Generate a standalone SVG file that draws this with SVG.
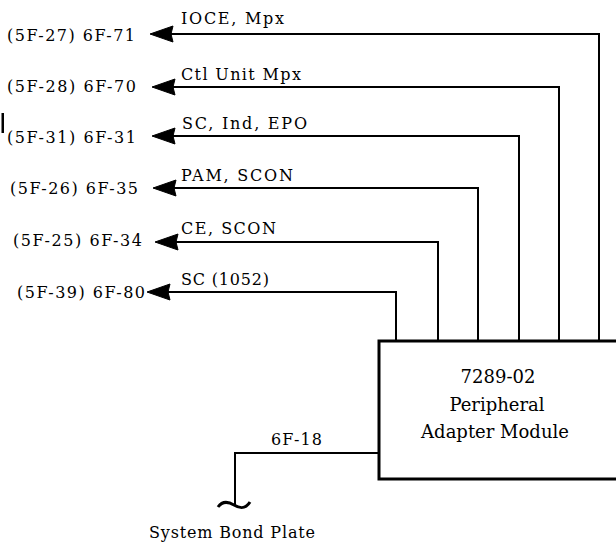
<svg xmlns="http://www.w3.org/2000/svg" width="616" height="546" viewBox="0 0 616 546">
<style>
.lbl{font-family:"DejaVu Serif","Liberation Serif",serif;font-size:16px;fill:#000}
.box{font-family:"DejaVu Serif","Liberation Serif",serif;font-size:18px;fill:#000;text-anchor:middle}
.wire{fill:none;stroke:#000;stroke-width:2}
.ah{fill:#000;stroke:#000;stroke-width:1;stroke-linejoin:miter}
</style>
<defs>
<path id="arr" d="M0,0 L23,-8 L21,0 L23,8 Z"/>
</defs>
<rect width="616" height="546" fill="#fff"/>
<g id="connectors">
<path class="wire" d="M599,340 V34 H168"/>
<path class="wire" d="M559,340 V87 H170"/>
<path class="wire" d="M519,340 V136 H170"/>
<path class="wire" d="M478,340 V188 H171"/>
<path class="wire" d="M438,340 V242 H173"/>
<path class="wire" d="M396,340 V292 H165"/>
<use href="#arr" class="ah" x="150" y="34"/>
<use href="#arr" class="ah" x="152" y="87"/>
<use href="#arr" class="ah" x="152" y="136"/>
<use href="#arr" class="ah" x="153" y="188"/>
<use href="#arr" class="ah" x="155" y="242"/>
<use href="#arr" class="ah" x="147" y="292"/>
<path class="wire" d="M379,453 H235 V505"/>
<path d="M218,507 C223,500 229,502 234,505 C239,508 245,510 250,502" fill="none" stroke="#000" stroke-width="3"/>
</g>
<g id="module">
<path d="M620,341 H379 V479 H620" fill="#fff" stroke="#000" stroke-width="3"/>
<text class="box" x="498" y="383">7289-02</text>
<text class="box" x="497" y="411">Peripheral</text>
<text class="box" x="495" y="438">Adapter Module</text>
</g>
<g id="out1">
<text class="lbl" x="7" y="41" textLength="128" lengthAdjust="spacing">(5F-27) 6F-71</text>
<text class="lbl" x="181" y="24" textLength="103" lengthAdjust="spacing">IOCE,  Mpx</text>
</g>
<g id="out2">
<text class="lbl" x="7" y="92" textLength="129" lengthAdjust="spacing">(5F-28) 6F-70</text>
<text class="lbl" x="181" y="80" textLength="120" lengthAdjust="spacing">Ctl Unit Mpx</text>
</g>
<g id="out3">
<text class="lbl" x="7" y="143" textLength="129" lengthAdjust="spacing">(5F-31) 6F-31</text>
<text class="lbl" x="182" y="129" textLength="125" lengthAdjust="spacing">SC,  Ind,  EPO</text>
</g>
<g id="out4">
<text class="lbl" x="10" y="194" textLength="128" lengthAdjust="spacing">(5F-26) 6F-35</text>
<text class="lbl" x="181" y="181" textLength="112" lengthAdjust="spacing">PAM,  SCON</text>
</g>
<g id="out5">
<text class="lbl" x="13" y="246" textLength="129" lengthAdjust="spacing">(5F-25) 6F-34</text>
<text class="lbl" x="181" y="234" textLength="95" lengthAdjust="spacing">CE,  SCON</text>
</g>
<g id="out6">
<text class="lbl" x="17" y="298" textLength="128" lengthAdjust="spacing">(5F-39) 6F-80</text>
<text class="lbl" x="181" y="285" textLength="88" lengthAdjust="spacing">SC (1052)</text>
</g>
<g id="ground">
<text class="lbl" x="271" y="445" textLength="51" lengthAdjust="spacing">6F-18</text>
<text class="lbl" x="149" y="538" textLength="166" lengthAdjust="spacing">System Bond Plate</text>
</g>
<rect x="1.5" y="113" width="2.5" height="20" fill="#000"/>
</svg>
